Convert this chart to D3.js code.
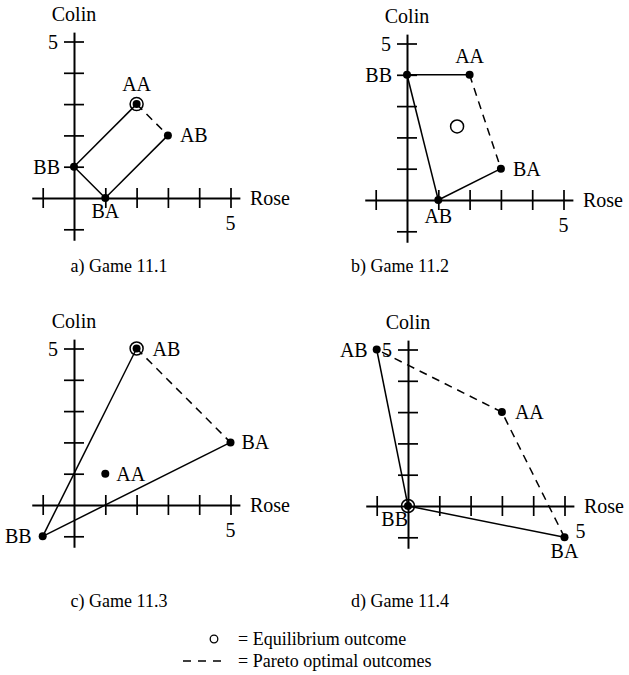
<!DOCTYPE html>
<html>
<head>
<meta charset="utf-8">
<script src="https://cdn.jsdelivr.net/npm/d3@7"></script>
<style>
  html, body { margin: 0; padding: 0; background: #fff; }
  svg { display: block; }
  text { font-family: "Liberation Serif", "Times New Roman", serif; fill: #000; }
</style>
</head>
<body>
<div id="chart"></div>
<script>
// ---------------- DATA ----------------
const outcomes = ["AA", "AB", "BA", "BB"];
const captions = ["a) Game 11.1", "b) Game 11.2", "c) Game 11.3", "d) Game 11.4"];
const xAxisTitle = "Rose";
const yAxisTitle = "Colin";
const tickValues = [-1, 1, 2, 3, 4, 5];
const tickLabel = "5";

// payoffs (Rose, Colin) for AA, AB, BA, BB
const game1Rose = [2, 3, 1, 0];
const game1Colin = [3, 2, 0, 1];
const game2Rose = [2, 1, 3, 0];
const game2Colin = [4, 0, 1, 4];
const game3Rose = [1, 2, 5, -1];
const game3Colin = [1, 5, 2, -1];
const game4Rose = [3, -1, 5, 0];
const game4Colin = [3, 5, -1, 0];

// equilibrium outcomes (pure: outcome name, mixed: coordinates)
const game1Equilibrium = "AA";
const game2EquilibriumMixed = [1.6, 2.35];
const game3Equilibrium = "AB";
const game4Equilibrium = "BB";

// solid (non-Pareto) and dashed (Pareto optimal) boundary segments
const game1Solid = [["BB", "AA"], ["AB", "BA"], ["BA", "BB"]];
const game1Pareto = [["AA", "AB"]];
const game2Solid = [["BB", "AA"], ["BA", "AB"], ["AB", "BB"]];
const game2Pareto = [["AA", "BA"]];
const game3Solid = [["BB", "AB"], ["BA", "BB"]];
const game3Pareto = [["AB", "BA"]];
const game4Solid = [["AB", "BB"], ["BB", "BA"]];
const game4Pareto = [["BA", "AA"], ["AA", "AB"]];

const legendEquilibrium = "= Equilibrium outcome";
const legendPareto = "= Pareto optimal outcomes";

// ---------------- LAYOUT / STYLE ----------------
const W = 629, H = 675;
const unit = 31.3;
const dom = [-1.35, 5.3];
const fontLabel = 20;
const fontCaption = 18;

const games = [
  { rose: game1Rose, colin: game1Colin, eq: game1Equilibrium, solid: game1Solid, pareto: game1Pareto,
    ox: 74, oy: 198, caption: captions[0], capX: 119, capY: 272,
    lab: { AA: ["top", 0, -13], AB: ["right", 12, 0], BA: ["bottom", 0, 20], BB: ["left", -14, 0] },
    x5: "below" },
  { rose: game2Rose, colin: game2Colin, eq: null, mixed: game2EquilibriumMixed, solid: game2Solid, pareto: game2Pareto,
    ox: 407, oy: 200, caption: captions[1], capX: 400, capY: 272,
    lab: { AA: ["top", 0, -12], AB: ["bottom", 0, 23], BA: ["right", 12, 0], BB: ["left", -15, 0] },
    x5: "below" },
  { rose: game3Rose, colin: game3Colin, eq: game3Equilibrium, solid: game3Solid, pareto: game3Pareto,
    ox: 74, oy: 505, caption: captions[2], capX: 119, capY: 607,
    lab: { AA: ["right", 11, 0], AB: ["right", 16, 0], BA: ["right", 11, 0], BB: ["left", -11, 0] },
    x5: "below" },
  { rose: game4Rose, colin: game4Colin, eq: game4Equilibrium, solid: game4Solid, pareto: game4Pareto,
    ox: 408, oy: 506, caption: captions[3], capX: 400, capY: 607,
    lab: { AA: ["right", 13, 0], AB: ["left", -9, 0], BA: ["bottom", 0, 21], BB: ["bottomleft", 0, 20] },
    x5: "side" }
];

const svg = d3.select("#chart").append("svg")
  .attr("width", W).attr("height", H)
  .attr("viewBox", `0 0 ${W} ${H}`);
svg.append("rect").attr("width", W).attr("height", H).attr("fill", "#fff");

games.forEach(g => {
  const x = d3.scaleLinear().domain(dom).range([g.ox + dom[0] * unit, g.ox + dom[1] * unit]);
  const y = d3.scaleLinear().domain(dom).range([g.oy - dom[0] * unit, g.oy - dom[1] * unit]);
  const G = svg.append("g");

  // axes: two-sided ticks via two axes
  const axStyle = sel => {
    sel.selectAll("path.domain").attr("stroke", "#000").attr("stroke-width", 2);
    sel.selectAll(".tick line").attr("stroke", "#000").attr("stroke-width", 1.7);
    sel.selectAll(".tick text").remove();
  };
  G.append("g").attr("transform", `translate(0,${y(0)})`)
    .call(d3.axisBottom(x).tickValues(tickValues).tickSize(10).tickSizeOuter(0).tickFormat(""))
    .call(axStyle);
  G.append("g").attr("transform", `translate(0,${y(0)})`)
    .call(d3.axisTop(x).tickValues(tickValues).tickSize(10).tickSizeOuter(0).tickFormat(""))
    .call(axStyle).call(s => s.select("path.domain").remove());
  G.append("g").attr("transform", `translate(${x(0)},0)`)
    .call(d3.axisLeft(y).tickValues(tickValues).tickSize(10).tickSizeOuter(0).tickFormat(""))
    .call(axStyle);
  G.append("g").attr("transform", `translate(${x(0)},0)`)
    .call(d3.axisRight(y).tickValues(tickValues).tickSize(10).tickSizeOuter(0).tickFormat(""))
    .call(axStyle).call(s => s.select("path.domain").remove());

  // axis titles and "5" tick labels
  G.append("text").attr("x", x(0)).attr("y", y(dom[1]) - 11)
    .attr("text-anchor", "middle").attr("font-size", fontLabel).text(yAxisTitle);
  G.append("text").attr("x", x(dom[1]) + 10).attr("y", y(0) + 7)
    .attr("font-size", fontLabel).text(xAxisTitle);
  G.append("text").attr("x", x(0) - 16).attr("y", y(5) + 7)
    .attr("text-anchor", "end").attr("font-size", fontLabel).text(tickLabel);
  if (g.x5 === "below") {
    G.append("text").attr("x", x(5)).attr("y", y(0) + 32)
      .attr("text-anchor", "middle").attr("font-size", fontLabel).text(tickLabel);
  } else {
    G.append("text").attr("x", x(5) + 11).attr("y", y(-1) + 1)
      .attr("font-size", fontLabel).text(tickLabel);
  }

  const pt = name => {
    const i = outcomes.indexOf(name);
    return [x(g.rose[i]), y(g.colin[i])];
  };

  // segments
  const line = d3.line();
  g.solid.forEach(s => {
    G.append("path").attr("d", line(s.map(pt)))
      .attr("fill", "none").attr("stroke", "#000").attr("stroke-width", 1.5);
  });
  g.pareto.forEach(s => {
    G.append("path").attr("d", line(s.map(pt)))
      .attr("fill", "none").attr("stroke", "#000").attr("stroke-width", 1.5)
      .attr("stroke-dasharray", "8,6");
  });

  // points
  outcomes.forEach((o, i) => {
    G.append("circle").attr("cx", x(g.rose[i])).attr("cy", y(g.colin[i]))
      .attr("r", 4).attr("fill", "#000");
    const [side, dx, dy] = g.lab[o];
    const px = x(g.rose[i]), py = y(g.colin[i]);
    let anchor = "middle", ty = py + dy;
    if (side === "right") { anchor = "start"; ty = py + 7; }
    if (side === "left") { anchor = "end"; ty = py + 7; }
    if (side === "bottomleft") { anchor = "end"; }
    G.append("text").attr("x", px + dx).attr("y", ty)
      .attr("text-anchor", anchor).attr("font-size", fontLabel).text(o);
  });

  // equilibrium
  if (g.eq) {
    const [ex, ey] = pt(g.eq);
    G.append("circle").attr("cx", ex).attr("cy", ey).attr("r", 6.5)
      .attr("fill", "none").attr("stroke", "#000").attr("stroke-width", 1.5);
  }
  if (g.mixed) {
    G.append("circle").attr("cx", x(g.mixed[0])).attr("cy", y(g.mixed[1])).attr("r", 6.5)
      .attr("fill", "none").attr("stroke", "#000").attr("stroke-width", 1.5);
  }

  // caption
  svg.append("text").attr("x", g.capX).attr("y", g.capY)
    .attr("text-anchor", "middle").attr("font-size", fontCaption).text(g.caption);
});

// legend
svg.append("circle").attr("cx", 214).attr("cy", 639).attr("r", 3.8)
  .attr("fill", "none").attr("stroke", "#000").attr("stroke-width", 1.3);
svg.append("text").attr("x", 238).attr("y", 645).attr("font-size", fontCaption).text(legendEquilibrium);
svg.append("line").attr("x1", 183).attr("x2", 226).attr("y1", 661).attr("y2", 661)
  .attr("stroke", "#000").attr("stroke-width", 1.3).attr("stroke-dasharray", "8,7");
svg.append("text").attr("x", 238).attr("y", 667).attr("font-size", fontCaption).text(legendPareto);
</script>
</body>
</html>
